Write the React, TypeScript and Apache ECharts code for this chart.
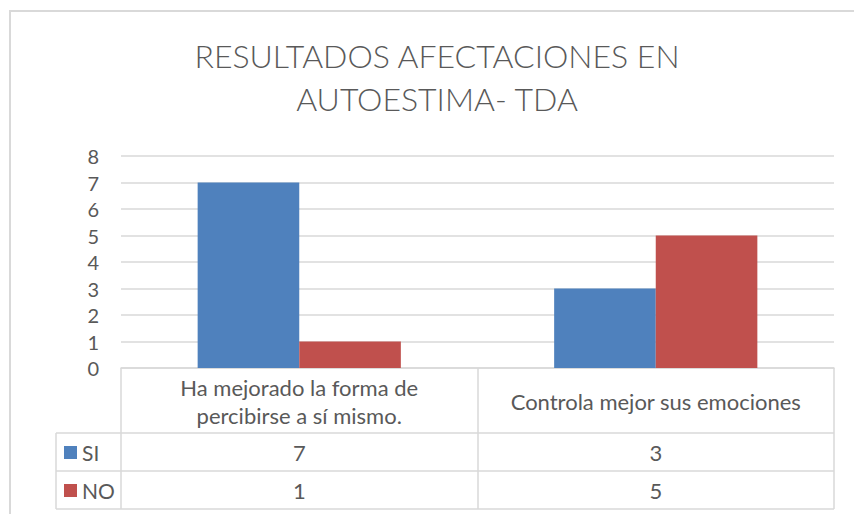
import React, { useEffect, useRef } from "react";
import * as echarts from "echarts";

const titleLines = ["RESULTADOS AFECTACIONES EN", "AUTOESTIMA- TDA"];
const categories = ["Ha mejorado la forma de\npercibirse a sí mismo.", "Controla mejor sus emociones"];
const seriesNames = ["SI", "NO"];
const siValues = [7, 3];
const noValues = [1, 5];
const yTicks = { min: 0, max: 8, interval: 1 };

const TEXT = "#595959";
const LINE = "#d9d9d9";
const FONT = "Lato, 'Noto Sans', sans-serif";
const FS = 20;
const TFS = 22;

export default function App() {
  const ref = useRef<HTMLDivElement>(null);
  useEffect(() => {
    if (!ref.current) return;
    const chart = echarts.init(ref.current, undefined, { renderer: "svg" });
    const gridLeft = 121;
    const gridRight = 834;
    const gridTop = 156;
    const gridBottom = 368;
    const rowLines = [433, 471, 509];
    const valueAxis = (vals: number[], offset: number) => ({
      type: "category",
      position: "bottom",
      offset,
      data: vals.map(String),
      axisLine: { show: false },
      axisTick: { show: false },
      axisLabel: { margin: 0, verticalAlign: "middle", fontSize: TFS, color: TEXT, fontFamily: FONT },
    });
    const legendFor = (name: string, top: number) => ({
      left: 59,
      top,
      itemWidth: 13,
      itemHeight: 13,
      icon: "rect",
      data: [name],
      textStyle: { fontSize: 21, color: TEXT, fontFamily: FONT, padding: [0, 0, 3, 0] },
    });
    chart.setOption({
      animation: false,
      textStyle: { fontFamily: FONT },
      title: {
        text: titleLines.join("\n"),
        left: 432,
        textAlign: "center",
        top: 29,
        textStyle: { fontSize: 32, fontWeight: 300, color: TEXT, lineHeight: 43, fontFamily: FONT },
      },
      legend: [legendFor(seriesNames[0], 437), legendFor(seriesNames[1], 475)],
      grid: { left: gridLeft, right: 854 - gridRight, top: gridTop, bottom: 514 - gridBottom, containLabel: false },
      yAxis: {
        type: "value",
        min: yTicks.min,
        max: yTicks.max,
        interval: yTicks.interval,
        axisLine: { show: false },
        axisTick: { show: false },
        axisLabel: { fontSize: FS, color: TEXT, margin: 22, fontFamily: FONT },
        splitLine: { lineStyle: { color: LINE, width: 1.5 } },
      },
      xAxis: [
        {
          type: "category",
          data: categories,
          axisLine: { lineStyle: { color: LINE, width: 1.5 } },
          axisTick: { show: true, length: 141, interval: 0, lineStyle: { color: LINE, width: 1.5 } },
          axisLabel: { margin: 33, verticalAlign: "middle", lineHeight: 28, fontSize: TFS, color: TEXT, interval: 0, fontFamily: FONT },
        },
        valueAxis(siValues, 84),
        valueAxis(noValues, 122),
      ],
      series: [
        { name: seriesNames[0], type: "bar", data: siValues, itemStyle: { color: "#4F81BD" }, barGap: "0%", barCategoryGap: "43%" },
        { name: seriesNames[1], type: "bar", data: noValues, itemStyle: { color: "#C0504D" }, barGap: "0%", barCategoryGap: "43%" },
      ],
      graphic: [
        { type: "rect", shape: { x: 10, y: 11, width: 900, height: 600 }, style: { fill: "none", stroke: LINE, lineWidth: 2 }, silent: true },
        ...rowLines.map((y) => ({
          type: "line",
          shape: { x1: 56, y1: y, x2: gridRight, y2: y },
          style: { stroke: LINE, lineWidth: 1.5 },
          silent: true,
        })),
        { type: "line", shape: { x1: 56, y1: rowLines[0], x2: 56, y2: rowLines[2] }, style: { stroke: LINE, lineWidth: 1.5 }, silent: true },
      ],
    });
    return () => chart.dispose();
  }, []);
  return <div ref={ref} style={{ position: "fixed", left: 0, top: 0, width: 854, height: 514, background: "#fff" }} />;
}
